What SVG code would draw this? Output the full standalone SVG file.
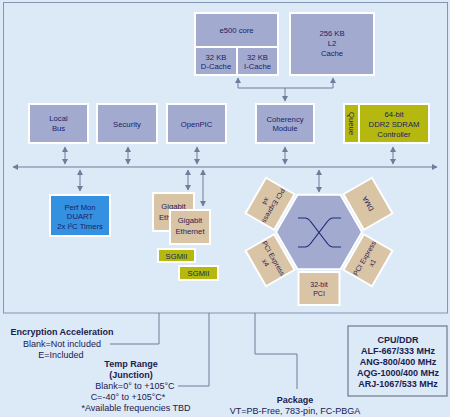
<svg xmlns="http://www.w3.org/2000/svg" width="450" height="417" viewBox="0 0 450 417">
<defs>
<marker id="ah" markerUnits="userSpaceOnUse" markerWidth="6" markerHeight="6" refX="5" refY="3" orient="auto-start-reverse"><path d="M0,0 L5.5,3 L0,6 z" fill="#6f7c9a"/></marker>
<style>
.bg{fill:#dce9f6}
.frame{fill:none;stroke:#8594b0;stroke-width:1}
.n{fill:#a3aacf;stroke:#fff;stroke-width:2}
.nf{fill:#a3aacf}
.wh{fill:#fff}
.tan{fill:#d9c4a6;stroke:#fff;stroke-width:2}
.yg{fill:#b4b80f;stroke:#fff;stroke-width:2}
.blue{fill:#3490e0;stroke:#fff;stroke-width:2}
.t{font-family:"Liberation Sans",Arial,sans-serif;font-size:7.7px;fill:#1b2266;text-anchor:middle}
.tb{font-family:"Liberation Sans",Arial,sans-serif;font-size:7px;fill:#2a2050;text-anchor:middle}
.ar{fill:none;stroke:#6f7c9a;stroke-width:1;marker-start:url(#ah);marker-end:url(#ah)}
.a1{fill:none;stroke:#6f7c9a;stroke-width:1;marker-end:url(#ah)}
.ln{fill:none;stroke:#6f7c9a;stroke-width:1}
.x{fill:none;stroke:#1e2a78;stroke-width:1.2}
.lab{font-family:"Liberation Sans",Arial,sans-serif;font-size:9px;fill:#1b2050;text-anchor:middle}
.labb{font-family:"Liberation Sans",Arial,sans-serif;font-size:9px;font-weight:bold;fill:#1b2050;text-anchor:middle}
.leg{fill:none;stroke:#6f7a90;stroke-width:1.2}
</style>
</defs>
<rect class="bg" x="0" y="0" width="450" height="417"/>
<rect class="frame" x="3.5" y="2.5" width="444" height="310.5"/>

<g id="connectors">
<path class="ln" d="M238,88 H333"/>
<path class="a1" d="M238,88 V78"/>
<path class="a1" d="M333,88 V78"/>
<path class="a1" d="M285,88 V101"/>
<path class="ar" d="M13,167 H437"/>
<path class="ar" d="M65,147 V164"/>
<path class="ar" d="M128,147 V164"/>
<path class="ar" d="M197,147 V164"/>
<path class="ar" d="M285,147 V164"/>
<path class="ar" d="M393,147 V164"/>
<path class="ar" d="M80,170 V191"/>
<path class="ar" d="M188,170 V190"/>
<path class="ar" d="M203,170 V206"/>
<path class="ar" d="M319,170 V192"/>
<path class="ln" d="M159,313 V344 H110"/>
<path class="ln" d="M209,313 V386 H178"/>
<path class="ln" d="M255,313 V354 H297 V389"/>
</g>

<g id="e500">
<rect class="wh" x="194" y="12" width="85" height="64"/>
<rect class="nf" x="196" y="14" width="81" height="32"/>
<rect class="nf" x="196" y="48" width="40" height="26"/>
<rect class="nf" x="238" y="48" width="39" height="26"/>
<text class="t" x="236.5" y="33">e500 core</text>
<text class="t" x="216" y="60">32 KB</text>
<text class="t" x="216" y="69">D-Cache</text>
<text class="t" x="257.5" y="60">32 KB</text>
<text class="t" x="257.5" y="69">I-Cache</text>
</g>
<g id="l2">
<rect class="n" x="290" y="13" width="84" height="62"/>
<text class="t" x="332" y="36">256 KB</text>
<text class="t" x="332" y="46">L2</text>
<text class="t" x="332" y="56">Cache</text>
</g>

<g id="localbus">
<rect class="n" x="29" y="104" width="59" height="39"/>
<text class="t" x="58.5" y="121">Local</text>
<text class="t" x="58.5" y="131">Bus</text>
</g>
<g id="security">
<rect class="n" x="97" y="104" width="60" height="39"/>
<text class="t" x="127" y="127">Security</text>
</g>
<g id="openpic">
<rect class="n" x="167" y="104" width="59" height="39"/>
<text class="t" x="196.5" y="127">OpenPIC</text>
</g>
<g id="coherency">
<rect class="n" x="256" y="104" width="58" height="39"/>
<text class="t" x="285" y="122">Coherency</text>
<text class="t" x="285" y="131">Module</text>
</g>
<g id="ddr">
<rect class="wh" x="343" y="103" width="87" height="41"/>
<rect fill="#b4b80f" x="345" y="105" width="13" height="37"/>
<rect fill="#b4b80f" x="360" y="105" width="68" height="37"/>
<text class="t" transform="translate(351.5,123.5) rotate(90)" y="2.7">Queue</text>
<text class="t" x="394" y="117">64-bit</text>
<text class="t" x="394" y="127">DDR2 SDRAM</text>
<text class="t" x="394" y="137">Controller</text>
</g>

<g id="perfmon">
<rect class="blue" x="50" y="195" width="60" height="41"/>
<text class="t" x="80" y="210">Perf Mon</text>
<text class="t" x="80" y="219">DUART</text>
<text class="t" x="80" y="229">2x I²C Timers</text>
</g>
<g id="gbe1">
<rect class="tan" x="153" y="193" width="41" height="38"/>
<text class="t" x="173.5" y="209" style="fill:#2a2050">Gigabit</text>
<text class="t" x="173.5" y="220" style="fill:#2a2050">Ethernet</text>
</g>
<g id="gbe2">
<rect class="tan" x="170" y="210" width="40" height="34"/>
<text class="t" x="190" y="223" style="fill:#2a2050">Gigabit</text>
<text class="t" x="190" y="234" style="fill:#2a2050">Ethernet</text>
</g>
<g id="sgmii1">
<rect class="yg" x="158" y="249" width="37" height="13"/>
<text class="t" x="176.5" y="258.5">SGMII</text>
</g>
<g id="sgmii2">
<rect class="yg" x="179" y="266" width="39" height="14"/>
<text class="t" x="198.5" y="276">SGMII</text>
</g>

<g id="switch">
<polygon points="362,232 340.5,269.2 297.5,269.2 276,232 297.5,194.8 340.5,194.8" fill="#a3aacf" stroke="#fff" stroke-width="2"/>
<path class="x" d="M298,218 H305 Q308,218 311,222 L327,243 Q330,247 333,247 H341"/>
<path class="x" d="M341,218 H333 Q330,218 327,222 L311,243 Q308,247 305,247 H298"/>
</g>
<g id="pci32">
<rect class="tan" x="298.5" y="272" width="41" height="33"/>
<text class="tb" x="319" y="287">32-bit</text>
<text class="tb" x="319" y="296">PCI</text>
</g>
<g id="pcie-x4-a" transform="rotate(120 319 232)">
<rect class="tan" x="298.5" y="272" width="41" height="33"/>
<text class="tb" x="319" y="287">PCI Express</text>
<text class="tb" x="319" y="296">x4</text>
</g>
<g id="dma" transform="rotate(-120 319 232)">
<rect class="tan" x="298.5" y="272" width="41" height="33"/>
<text class="tb" x="319" y="291">DMA</text>
</g>
<g id="pcie-x4-b" transform="rotate(60 319 232)">
<rect class="tan" x="298.5" y="272" width="41" height="33"/>
<text class="tb" x="319" y="287">PCI Express</text>
<text class="tb" x="319" y="296">x4</text>
</g>
<g id="pcie-x1" transform="rotate(-60 319 232)">
<rect class="tan" x="298.5" y="272" width="41" height="33"/>
<text class="tb" x="319" y="287">PCI Express</text>
<text class="tb" x="319" y="296">x1</text>
</g>

<g id="encryption">
<text class="labb" x="62" y="335">Encryption Acceleration</text>
<text class="lab" x="62" y="347">Blank=Not included</text>
<text class="lab" x="61" y="358">E=Included</text>
</g>
<g id="temp">
<text class="labb" x="131" y="367">Temp Range</text>
<text class="labb" x="131" y="378">(Junction)</text>
<text class="lab" x="135" y="389">Blank=0° to +105°C</text>
<text class="lab" x="128" y="400">C=-40° to +105°C*</text>
<text class="lab" x="136" y="411">*Available frequencies TBD</text>
</g>
<g id="package">
<text class="labb" x="295" y="403">Package</text>
<text class="lab" x="295" y="414">VT=PB-Free, 783-pin, FC-PBGA</text>
</g>
<g id="cpuddr">
<rect class="leg" x="348" y="326" width="99" height="70"/>
<text class="labb" x="398" y="343">CPU/DDR</text>
<text class="labb" x="398" y="354">ALF-667/333 MHz</text>
<text class="labb" x="398" y="365">ANG-800/400 MHz</text>
<text class="labb" x="398" y="376">AQG-1000/400 MHz</text>
<text class="labb" x="398" y="387">ARJ-1067/533 MHz</text>
</g>
</svg>
